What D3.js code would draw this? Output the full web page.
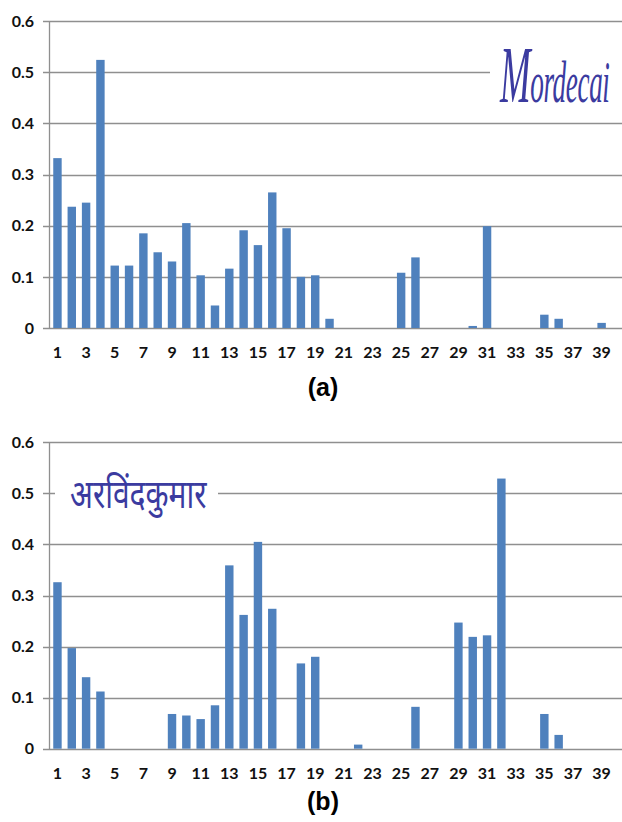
<!DOCTYPE html>
<html><head><meta charset="utf-8">
<script src="https://cdn.jsdelivr.net/npm/d3@7"></script>
<style>body{margin:0;background:#fff}svg{display:block}</style>
</head><body>
<svg id="c" width="622" height="822"></svg>
<script>
const categories = [1,2,3,4,5,6,7,8,9,10,11,12,13,14,15,16,17,18,19,20,21,22,23,24,25,26,27,28,29,30,31,32,33,34,35,36,37,38,39,40];
const valuesA = [0.332,0.237,0.245,0.524,0.122,0.122,0.185,0.148,0.130,0.205,0.103,0.044,0.116,0.191,0.162,0.265,0.195,0.100,0.103,0.018,0,0,0,0,0.108,0.138,0,0,0,0.004,0.199,0,0,0,0.026,0.018,0,0,0.010,0];
const valuesB = [0.326,0.197,0.140,0.112,0,0,0,0,0.068,0.065,0.058,0.085,0.359,0.262,0.405,0.274,0,0.167,0.180,0,0,0.008,0,0,0,0.082,0,0,0.247,0.219,0.222,0.529,0,0,0.068,0.027,0,0,0,0];
const yTicks = [0,0.1,0.2,0.3,0.4,0.5,0.6];
const xTickLabels = [1,3,5,7,9,11,13,15,17,19,21,23,25,27,29,31,33,35,37,39];
const panelLabels = ["(a)","(b)"];

const svg = d3.select("#c");
const x = d3.scaleBand().domain(categories).range([50.3, 623.1]).paddingInner(0.412).paddingOuter(0.206);

function panel(values, top, bottom, label, labelY, note) {
  const y = d3.scaleLinear().domain([0, 0.6]).range([bottom, top]);
  const g = svg.append("g");
  g.selectAll("line.grid").data(yTicks).join("line")
    .attr("x1", 43).attr("x2", 622)
    .attr("y1", d => Math.round(y(d)) + 0.5).attr("y2", d => Math.round(y(d)) + 0.5)
    .attr("stroke", "#8f8f8f").attr("stroke-width", 1.3);
  g.append("line").attr("x1", 49.5).attr("x2", 49.5)
    .attr("y1", y(0.6)).attr("y2", y(0) + 1)
    .attr("stroke", "#8f8f8f").attr("stroke-width", 1.3);
  g.selectAll("text.yt").data(yTicks).join("text")
    .attr("x", 34).attr("y", d => y(d)).attr("dy", "0.36em")
    .attr("text-anchor", "end")
    .attr("font-family", "Lato, 'Open Sans', sans-serif").attr("font-weight", 700)
    .attr("font-size", 16).attr("fill", "#111")
    .text(d => d === 0 ? "0" : d.toFixed(1));
  note(g, y);
  g.selectAll("rect.bar").data(values.map((v, i) => ({c: categories[i], v}))).join("rect")
    .attr("x", d => x(d.c)).attr("width", x.bandwidth())
    .attr("y", d => y(d.v)).attr("height", d => y(0) - y(d.v))
    .attr("fill", "#4f81bd");
  g.selectAll("text.xt").data(xTickLabels).join("text")
    .attr("x", d => x(d) + x.bandwidth() / 2).attr("y", y(0) + 30)
    .attr("text-anchor", "middle")
    .attr("font-family", "Lato, 'Open Sans', sans-serif").attr("font-weight", 700)
    .attr("font-size", 16).attr("fill", "#111")
    .text(d => d);
  svg.append("text").attr("x", 323).attr("y", labelY).attr("text-anchor", "middle")
    .attr("font-family", "'Liberation Sans', Arial, sans-serif").attr("font-weight", 700)
    .attr("font-size", 25).attr("fill", "#000").text(label);
}

panel(valuesA, 21, 328, panelLabels[0], 396, (g, y) => {
  g.append("rect").attr("x", 490).attr("y", 30).attr("width", 132).attr("height", 80).attr("fill", "#fff");
  const t = g.append("text").attr("transform", "translate(500,102) scale(0.8,1.75)")
    .attr("font-family", "'Liberation Serif', serif").attr("font-style", "italic")
    .attr("font-size", 34).attr("fill", "#3b3ba0").attr("letter-spacing", -0.5);
  t.append("tspan").attr("font-size", 46).text("M");
  t.append("tspan").text("ordecai");
});
panel(valuesB, 442.3, 748.7, panelLabels[1], 810, (g, y) => {
  g.append("rect").attr("x", 55).attr("y", 455).attr("width", 163).attr("height", 80).attr("fill", "#fff");
  g.append("text").attr("transform", "translate(70,508) scale(1,1.35)")
    .attr("font-family", "'Noto Sans', sans-serif")
    .attr("font-size", 30).attr("fill", "#3b3ba0")
    .text("अरविंदकुमार");
});
</script>
</body></html>
